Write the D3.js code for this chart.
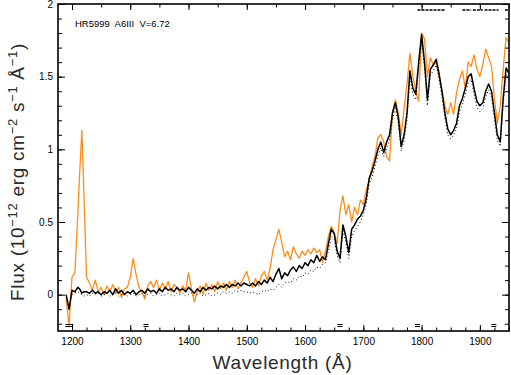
<!DOCTYPE html>
<html>
<head>
<meta charset="utf-8">
<script src="https://cdn.jsdelivr.net/npm/d3@7"></script>
<style>
  body { margin: 0; background: #fff; }
  svg { display: block; }
  .tick text { font-family: "Liberation Sans", Arial, sans-serif; font-size: 10px; fill: #000; }
  .axisTitle { font-family: "Liberation Sans", Arial, sans-serif; font-size: 19px; fill: #2a2a2a; letter-spacing: 0.7px; }
</style>
</head>
<body>
<script>

//wavelength grid of the spectra (Angstrom)
var waves = [1190,1195,1200,1205,1210,1213,1217,1221,1225,1230,1235,1240,1245,1250,1255,1260,1265,
  1270,1275,1280,1285,1290,1295,1300,1305,1310,1315,1320,1325,1330,1335,1340,1345,
  1350,1355,1360,1365,1370,1375,1380,1385,1390,1395,1400,1405,1410,1415,1420,1425,
  1430,1435,1440,1445,1450,1455,1460,1465,1470,1475,1480,1485,1490,1495,1500,1505,
  1510,1515,1520,1525,1530,1535,1540,1545,1550,1555,1560,1565,1570,1575,1580,1585,
  1590,1595,1600,1605,1610,1615,1620,1625,1630,1635,1640,1645,1650,1655,1660,1665,
  1670,1675,1680,1685,1690,1695,1700,1705,1710,1715,1720,1725,1730,1735,1740,1745,
  1750,1755,1760,1765,1770,1775,1780,1785,1790,1795,1800,1805,1810,1815,1820,1825,
  1830,1835,1840,1845,1850,1855,1860,1865,1870,1875,1880,1885,1890,1895,1900,1905,
  1910,1915,1920,1925,1930,1935,1940,1945,1950];

//flux, black solid spectrum (1e-12 erg cm-2 s-1 A-1)
var fluxBlack = [0.00,-0.10,0.03,0.02,0.05,0.04,0.01,0.02,0.02,0.01,0.03,0.01,0.02,0.00,0.02,0.01,0.03,
  0.00,0.04,0.01,0.03,0.00,0.02,0.01,0.03,0.00,0.02,0.03,0.01,0.04,0.02,0.03,0.01,
  0.04,0.02,0.05,0.03,0.04,0.02,0.05,0.03,0.04,0.02,0.05,0.03,0.01,0.04,0.02,0.05,
  0.03,0.05,0.04,0.06,0.04,0.06,0.05,0.07,0.05,0.07,0.06,0.08,0.06,0.08,0.07,0.06,
  0.08,0.06,0.09,0.07,0.10,0.08,0.12,0.09,0.14,0.18,0.11,0.15,0.13,0.17,0.19,0.16,
  0.20,0.18,0.22,0.20,0.24,0.22,0.27,0.23,0.26,0.24,0.35,0.45,0.42,0.30,0.25,0.48,
  0.40,0.29,0.45,0.48,0.52,0.54,0.58,0.66,0.80,0.85,0.92,1.00,1.05,0.98,1.05,1.10,
  1.25,1.32,1.22,1.02,1.10,1.25,1.54,1.42,1.38,1.60,1.79,1.60,1.34,1.55,1.58,1.62,
  1.52,1.40,1.25,1.14,1.10,1.13,1.18,1.30,1.35,1.42,1.50,1.52,1.42,1.33,1.30,1.32,
  1.40,1.45,1.40,1.25,1.10,1.05,1.35,1.56,1.52];

//flux, black dotted spectrum
var fluxDotted = [-0.02,-0.08,0.00,0.01,0.02,0.01,0.00,-0.01,0.00,-0.01,0.01,0.00,0.01,-0.01,0.00,0.01,-0.01,
  0.00,0.01,-0.01,0.00,0.01,-0.01,0.00,0.01,-0.01,0.00,0.01,-0.01,0.00,0.01,-0.01,0.00,
  0.01,-0.01,0.00,0.01,0.00,-0.01,0.01,0.00,0.01,-0.01,0.00,0.01,-0.01,0.00,0.01,-0.01,
  0.00,0.01,-0.01,0.00,0.01,0.00,0.02,0.01,0.02,0.01,0.03,0.02,0.03,0.02,0.02,0.01,
  0.02,0.01,0.00,0.02,0.03,0.02,0.04,0.03,0.05,0.07,0.05,0.08,0.09,0.08,0.11,0.10,
  0.13,0.12,0.15,0.14,0.17,0.16,0.19,0.18,0.21,0.22,0.30,0.40,0.38,0.27,0.22,0.44,
  0.36,0.25,0.40,0.44,0.47,0.50,0.55,0.62,0.76,0.81,0.88,0.96,1.01,0.95,1.01,1.06,
  1.21,1.28,1.18,0.99,1.06,1.21,1.50,1.38,1.34,1.56,1.75,1.56,1.30,1.51,1.54,1.58,
  1.48,1.36,1.21,1.10,1.07,1.10,1.14,1.26,1.31,1.38,1.46,1.48,1.38,1.29,1.26,1.28,
  1.36,1.41,1.36,1.21,1.06,1.02,1.31,1.52,1.48];

//flux, orange spectrum
var fluxOrange = [-0.03,-0.21,0.12,0.15,0.55,0.82,1.13,0.62,0.12,0.08,0.03,0.10,0.02,0.05,0.00,0.06,0.02,
  0.07,0.01,0.05,-0.02,0.04,0.05,0.12,0.25,0.14,0.05,0.02,-0.03,0.06,0.09,0.05,0.10,
  0.03,0.08,0.04,0.09,0.02,0.07,0.05,0.01,0.06,0.03,0.15,0.04,-0.05,0.02,0.06,0.00,
  0.08,0.03,0.07,0.02,0.09,0.04,0.08,0.03,0.09,0.05,0.10,0.04,0.08,0.12,0.16,0.08,
  0.05,0.11,0.06,0.13,0.16,0.10,0.18,0.31,0.38,0.45,0.36,0.26,0.30,0.24,0.33,0.28,
  0.25,0.30,0.27,0.31,0.28,0.32,0.29,0.31,0.22,0.30,0.40,0.47,0.43,0.35,0.58,0.68,
  0.55,0.62,0.50,0.60,0.55,0.65,0.62,0.72,0.78,0.88,0.95,1.08,1.10,1.05,0.95,0.92,
  1.25,1.34,1.25,1.10,1.28,1.45,1.66,1.50,1.40,1.33,1.80,1.76,1.50,1.63,1.58,1.60,
  1.50,1.40,1.30,1.24,1.32,1.24,1.39,1.48,1.54,1.42,1.60,1.57,1.65,1.55,1.50,1.58,
  1.69,1.63,1.57,1.35,1.18,1.30,1.55,1.77,1.73];

//flagged points shown along the axes
var flagsBottom = [1193, 1198, 1327, 1660, 1793, 1924];
var flagsTop = [[1793, 1840], [1870, 1885], [1888, 1905], [1908, 1932], [1943, 1950]];

var xTicks = [1200, 1300, 1400, 1500, 1600, 1700, 1800, 1900];
var yTicks = [0, 0.5, 1, 1.5, 2];
var label = "HR5999  A6III  V=6.72";

//frame dimensions
var width = 511,
    height = 375;
var margin = {top: 4, right: 2, bottom: 44, left: 58};

var svg = d3.select("body")
    .append("svg")
    .attr("width", width)
    .attr("height", height);

var x = d3.scaleLinear()
    .domain([1176, 1950])
    .range([margin.left, width - margin.right]);

var y = d3.scaleLinear()
    .domain([-0.25, 2])
    .range([height - margin.bottom, margin.top]);

var x0 = x.range()[0], x1 = x.range()[1],
    y0 = y.range()[0], y1 = y.range()[1];

//clip spectra to the plot box
svg.append("clipPath")
    .attr("id", "plotClip")
  .append("rect")
    .attr("x", x0)
    .attr("y", y1)
    .attr("width", x1 - x0)
    .attr("height", y0 - y1);

var plot = svg.append("g").attr("clip-path", "url(#plotClip)");

function series(vals){
    return waves.map(function(w, i){ return [w, vals[i]]; });
};

var line = d3.line()
    .x(function(d){ return x(d[0]); })
    .y(function(d){ return y(d[1]); });

plot.append("path")
    .datum(series(fluxOrange))
    .attr("fill", "none")
    .attr("stroke", "#ff8c1a")
    .attr("stroke-width", 1.3)
    .attr("stroke-linejoin", "round")
    .attr("d", line);

plot.append("path")
    .datum(series(fluxDotted))
    .attr("fill", "none")
    .attr("stroke", "#000")
    .attr("stroke-width", 1)
    .attr("stroke-dasharray", "1,2.5")
    .attr("d", line);

plot.append("path")
    .datum(series(fluxBlack))
    .attr("fill", "none")
    .attr("stroke", "#000")
    .attr("stroke-width", 1.5)
    .attr("stroke-linejoin", "round")
    .attr("d", line);

//axes, ticks pointing inward
var minorX = d3.range(1200, 1951, 25),
    minorXTop = d3.range(1200, 1951, 50),
    minorY = d3.range(-0.2, 2.01, 0.1);

function noDomain(g){ g.select(".domain").remove(); };

svg.append("g")
    .attr("transform", "translate(0," + y0 + ")")
    .call(d3.axisBottom(x).tickValues(minorX).tickSize(-3.5).tickFormat(""))
    .call(noDomain);

svg.append("g")
    .attr("transform", "translate(0," + y0 + ")")
    .call(d3.axisBottom(x).tickValues(xTicks).tickSize(-6).tickPadding(7).tickFormat(d3.format("d")))
    .call(noDomain);

svg.append("g")
    .attr("transform", "translate(0," + y1 + ")")
    .call(d3.axisTop(x).tickValues(minorXTop).tickSize(-3.5).tickFormat(""))
    .call(noDomain);

svg.append("g")
    .attr("transform", "translate(0," + y1 + ")")
    .call(d3.axisTop(x).tickValues(xTicks).tickSize(-6).tickFormat(""))
    .call(noDomain);

svg.append("g")
    .attr("transform", "translate(" + x0 + ",0)")
    .call(d3.axisLeft(y).tickValues(minorY).tickSize(-4).tickFormat(""))
    .call(noDomain);

svg.append("g")
    .attr("transform", "translate(" + x0 + ",0)")
    .call(d3.axisLeft(y).tickValues(yTicks).tickSize(-7).tickPadding(5).tickFormat(d3.format("")))
    .call(noDomain);

svg.append("g")
    .attr("transform", "translate(" + x1 + ",0)")
    .call(d3.axisRight(y).tickValues(minorY).tickSize(-4).tickFormat(""))
    .call(noDomain);

svg.append("g")
    .attr("transform", "translate(" + x1 + ",0)")
    .call(d3.axisRight(y).tickValues(yTicks).tickSize(-7).tickFormat(""))
    .call(noDomain);

svg.selectAll(".tick line").attr("stroke", "#000").attr("stroke-width", 1);

//frame
svg.append("rect")
    .attr("x", x0)
    .attr("y", y1)
    .attr("width", x1 - x0)
    .attr("height", y0 - y1)
    .attr("fill", "none")
    .attr("stroke", "#000")
    .attr("stroke-width", 1.6);

//flag markers
svg.selectAll(".flagB")
    .data(flagsBottom)
    .enter()
    .append("path")
    .attr("class", "flagB")
    .attr("d", function(d){
        var cx = x(d), cy = y0 - 5;
        return "M" + (cx - 2.5) + "," + (cy - 1.5) + "h5M" + (cx - 2.5) + "," + (cy + 0.5) + "h5";
    })
    .attr("stroke", "#000")
    .attr("stroke-width", 1);

svg.selectAll(".flagT")
    .data(flagsTop)
    .enter()
    .append("line")
    .attr("class", "flagT")
    .attr("x1", function(d){ return x(d[0]); })
    .attr("x2", function(d){ return x(d[1]); })
    .attr("y1", y1 + 6)
    .attr("y2", y1 + 6)
    .attr("stroke", "#000")
    .attr("stroke-width", 1.5)
    .attr("stroke-dasharray", "3,1");

//star label
svg.append("text")
    .attr("x", 75)
    .attr("y", 27)
    .attr("font-family", "Liberation Sans, Arial, sans-serif")
    .attr("font-size", 9.5)
    .style("white-space", "pre")
    .text(label);

//axis titles
svg.append("text")
    .attr("class", "axisTitle")
    .attr("x", (x0 + x1) / 2 - 1)
    .attr("y", 369)
    .attr("text-anchor", "middle")
    .text("Wavelength (Å)");

var yTitle = svg.append("text")
    .attr("class", "axisTitle")
    .attr("transform", "translate(24,172) rotate(-90)")
    .attr("text-anchor", "middle");

var parts = [["Flux (10", false], ["−12", true], [" erg cm", false], ["−2", true],
             [" s", false], ["−1", true], [" Å", false], ["−1", true], [")", false]];
parts.forEach(function(p){
    yTitle.append("tspan")
        .attr("font-size", p[1] ? 13 : 19)
        .attr("baseline-shift", p[1] ? "7" : null)
        .style("white-space", "pre")
        .text(p[0]);
});

</script>
</body>
</html>
